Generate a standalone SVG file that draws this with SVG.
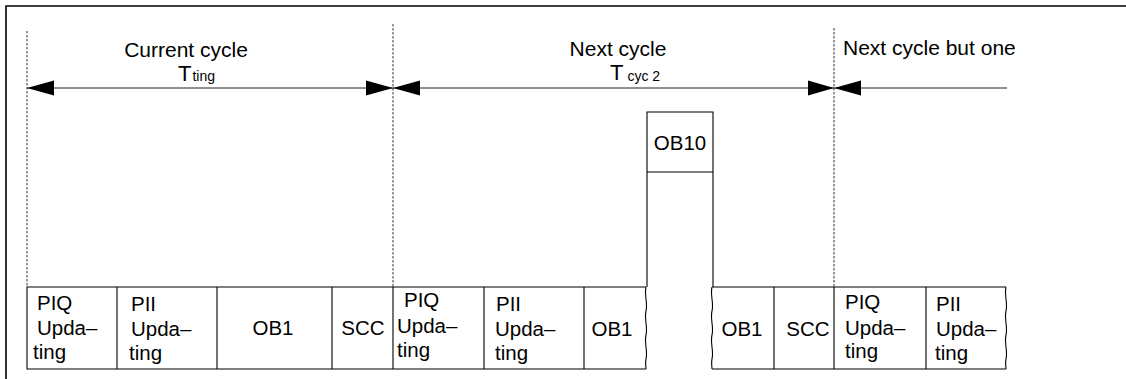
<svg xmlns="http://www.w3.org/2000/svg" width="1126" height="379" viewBox="0 0 1126 379">
<style>
text{font-family:"Liberation Sans",Arial,sans-serif;fill:#000}
.t{font-size:21px}
.s{font-size:14px}
.b{font-size:20.5px}
.box{fill:none;stroke:#000;stroke-width:1.1}
.dash{stroke:#333;stroke-width:1;stroke-dasharray:2.5,1.5;fill:none}
.ah{fill:#000}
</style>
<rect width="1126" height="379" fill="#fff"/>
<g id="frame"><path d="M6 379V6H1126" fill="none" stroke="#000" stroke-width="1.6"/></g>
<g id="connectors">
<path class="dash" d="M27 31V287M393 24V287M834 28V287"/>
<path d="M27 88H1007" stroke="#222" stroke-width="1"/>
<polygon class="ah" points="27,88 54,80.5 54,95.5"/>
<polygon class="ah" points="393,88 366,80.5 366,95.5"/>
<polygon class="ah" points="393,88 420,80.5 420,95.5"/>
<polygon class="ah" points="834,88 808,80.5 808,95.5"/>
<polygon class="ah" points="834,88 861,80.5 861,95.5"/>
</g>
<g id="labels">
<text class="t" x="186" y="57" text-anchor="middle">Current cycle</text>
<text x="178" y="81"><tspan font-size="22px">T</tspan><tspan class="s" dx="1">ting</tspan></text>
<text class="t" x="618" y="56" text-anchor="middle">Next cycle</text>
<text x="610" y="80"><tspan font-size="22px">T</tspan><tspan class="s" dx="4" dy="1">cyc 2</tspan></text>
<text class="t" x="843" y="55">Next cycle but one</text>
</g>
<g id="row1">
<path class="box" d="M646 287H27V369H646"/>
<path class="box" d="M646 287c-2 8 2 16 0 24s2 16 0 24 2 16 0 24c-1 4 0 7 0 10"/>
<path class="box" d="M117 287V369M217 287V369M332 287V369M393 287V369M484 287V369M584 287V369"/>
</g>
<g id="piq1"><text class="b" x="37" y="310">PIQ</text><text class="b" x="37" y="335">Upda–</text><text class="b" x="33" y="359">ting</text></g>
<g id="pii1"><text class="b" x="131" y="311">PII</text><text class="b" x="131" y="336">Upda–</text><text class="b" x="129" y="360">ting</text></g>
<g id="ob1a"><text class="b" x="273" y="335" text-anchor="middle">OB1</text></g>
<g id="scc1"><text class="b" x="363" y="335" text-anchor="middle">SCC</text></g>
<g id="piq2"><text class="b" x="404" y="307">PIQ</text><text class="b" x="397" y="333">Upda–</text><text class="b" x="397" y="357">ting</text></g>
<g id="pii2"><text class="b" x="496" y="311">PII</text><text class="b" x="495" y="336">Upda–</text><text class="b" x="495" y="360">ting</text></g>
<g id="ob1b"><text class="b" x="612" y="336" text-anchor="middle">OB1</text></g>
<g id="ob10">
<path class="box" d="M647 287V112H713V287M647 172H713"/>
<text class="b" x="680" y="150" text-anchor="middle">OB10</text>
</g>
<g id="row2">
<path class="box" d="M712 287H1006M712 369H1006"/>
<path class="box" d="M712 287c-2 8 2 16 0 24s2 16 0 24 2 16 0 24c-1 4 0 7 0 10"/>
<path class="box" d="M1006 287c-2 8 2 16 0 24s2 16 0 24 2 16 0 24c-1 4 0 7 0 10"/>
<path class="box" d="M774 287V369M834 287V369M926 287V369"/>
</g>
<g id="ob1c"><text class="b" x="742" y="336" text-anchor="middle">OB1</text></g>
<g id="scc2"><text class="b" x="808" y="336" text-anchor="middle">SCC</text></g>
<g id="piq3"><text class="b" x="845" y="309">PIQ</text><text class="b" x="845" y="335">Upda–</text><text class="b" x="845" y="358">ting</text></g>
<g id="pii3"><text class="b" x="936" y="311">PII</text><text class="b" x="936" y="336">Upda–</text><text class="b" x="935" y="360">ting</text></g>
</svg>
